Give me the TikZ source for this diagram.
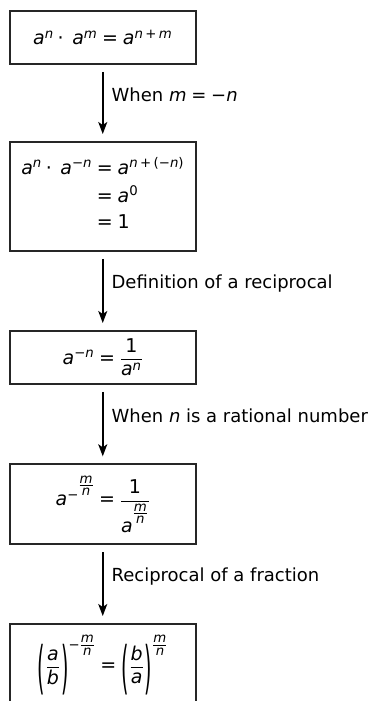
\documentclass[tikz,border=0pt]{standalone}
\usepackage{amsmath}
\usepackage{graphicx}
\usepackage{fontspec}
\setmainfont{DejaVu Sans}
\usetikzlibrary{arrows.meta}
\newcommand\vv[1]{\text{\itshape #1}}
\newcommand\dg[1]{\text{#1}}
\newcommand\eqs{\mathrel{\text{=}}}
\newcommand\pls{\,\text{+}\,}
\newcommand\mns{\text{−}}
\newcommand\cds{\mathbin{\text{·}}\;}
\newcommand\sfr[2]{\raisebox{0.9ex}{$\genfrac{}{}{0.6pt}{1}{#1}{#2}$}}
\newcommand\sfrb[2]{\genfrac{}{}{0.6pt}{1}{#1}{#2}}
\newcommand\tpl{\mathopen{\raisebox{-0.8em}{\scalebox{1}[3]{(}}}\mkern1mu}
\newcommand\tpr{\mkern1mu\mathclose{\raisebox{-0.8em}{\scalebox{1}[3]{)}}}}
\begin{document}
\begin{tikzpicture}[x=1pt,y=-1pt,
  box/.style={draw, line width=1.8pt, draw=black!85, minimum width=186pt, inner sep=2pt, anchor=north,
    font=\fontsize{19}{23}\selectfont},
  flow/.style={-{Stealth[length=12pt,width=9pt,inset=3pt]}, line width=1.7pt, shorten <=7pt, shorten >=7pt},
  lbl/.style={anchor=west, font=\fontsize{18}{22}\selectfont, inner sep=0pt, xshift=8pt}]
\useasboundingbox (0,0) rectangle (368,701);
\clip (0,0) rectangle (368,701);
\node[box, minimum height=53pt] (b1) at (102.75,10)
  {$\vv{a}^{\vv{n}}\cds \vv{a}^{\vv{m}} \eqs \vv{a}^{\vv{n}\pls\vv{m}}$};
\node[box, minimum height=109pt] (b2) at (102.75,141)
  {$\begin{aligned} \vv{a}^{\vv{n}}\cds\vv{a}^{\mns\vv{n}} &\eqs \vv{a}^{\vv{n}\pls\dg{(}\mns\vv{n}\dg{)}}\\ &\eqs \vv{a}^{\dg{0}}\\ &\eqs \dg{1}\end{aligned}$};
\node[box, minimum height=53pt] (b3) at (102.75,330)
  {$\vv{a}^{\mns\vv{n}} \eqs \dfrac{\dg{1}}{\vv{a}^{\vv{n}}}$};
\node[box, minimum height=80pt] (b4) at (102.75,463.3)
  {$\vv{a}^{\mns\sfr{\vv{m}}{\vv{n}}} \eqs \dfrac{\dg{1}}{\vv{a}^{\sfr{\vv{m}}{\vv{n}}}}$};
\node[box, minimum height=82pt] (b5) at (102.75,623)
  {$\tpl\dfrac{\vv{a}}{\vv{b}}\tpr^{\mns\sfrb{\vv{m}}{\vv{n}}} \eqs \tpl\dfrac{\vv{b}}{\vv{a}}\tpr^{\sfrb{\vv{m}}{\vv{n}}}$};
\draw[flow] (b1.south) -- (b2.north) node[lbl, pos=0.4] {When $\vv{m} \eqs \mns\vv{n}$};
\draw[flow] (b2.south) -- (b3.north) node[lbl, pos=0.4] {Definition of a reciprocal};
\draw[flow] (b3.south) -- (b4.north) node[lbl, pos=0.4] {When \textit{n} is a rational number};
\draw[flow] (b4.south) -- (b5.north) node[lbl, pos=0.4] {Reciprocal of a fraction};
\end{tikzpicture}
\end{document}
